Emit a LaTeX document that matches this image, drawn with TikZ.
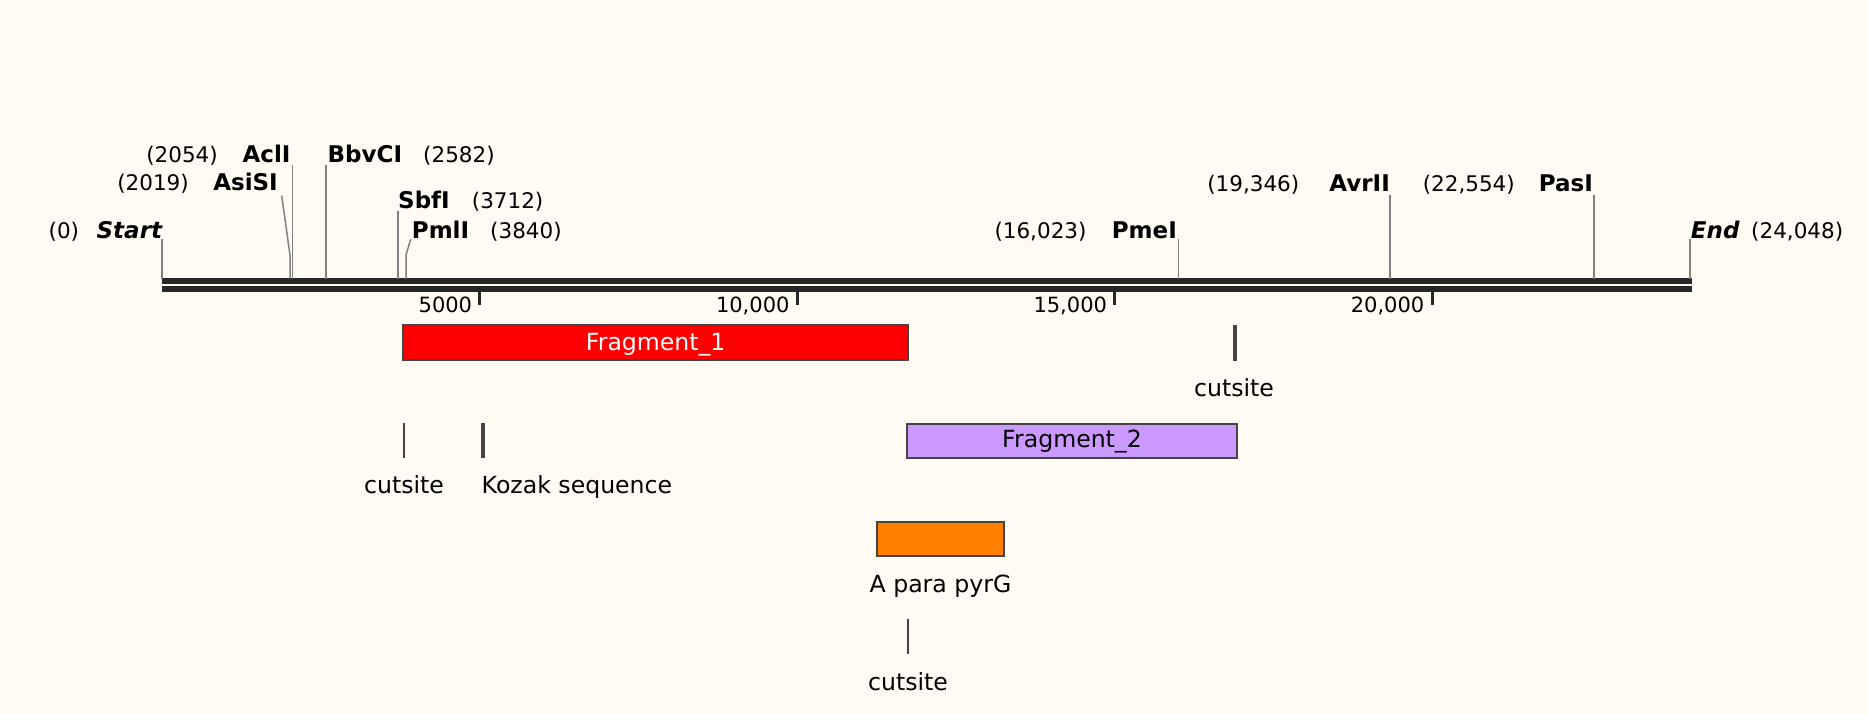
\documentclass[tikz,border=0pt]{standalone}
\usepackage{fontspec}
\setmainfont{DejaVu Sans}
\definecolor{bgc}{HTML}{FFFBF3}
\definecolor{bbc}{HTML}{262626}
\definecolor{leadc}{HTML}{808080}
\definecolor{edgec}{HTML}{444444}
\definecolor{frag1c}{HTML}{FF0000}
\definecolor{frag2c}{HTML}{CC99FF}
\definecolor{orangec}{HTML}{FF8000}
\begin{document}
\begin{tikzpicture}[x=1pt,y=-1pt,
  numE/.style={font=\fontsize{21.5}{26}\selectfont, inner sep=0pt, anchor=base east},
  numW/.style={font=\fontsize{21.5}{26}\selectfont, inner sep=0pt, anchor=base west},
  enzE/.style={font=\fontsize{23}{28}\selectfont\bfseries, inner sep=0pt, anchor=base east},
  enzW/.style={font=\fontsize{23}{28}\selectfont\bfseries, inner sep=0pt, anchor=base west},
  endE/.style={font=\fontsize{23}{28}\selectfont\bfseries\itshape, inner sep=0pt, anchor=base east},
  endW/.style={font=\fontsize{23}{28}\selectfont\bfseries\itshape, inner sep=0pt, anchor=base west},
  lead/.style={draw=leadc, line width=1.5pt},
  bbline/.style={draw=bbc, line width=5.7pt},
  tickline/.style={draw=bbc, line width=3pt},
  ticklbl/.style={font=\fontsize{21}{25}\selectfont, inner sep=0pt, anchor=base east},
  fbox/.style={draw=edgec, line width=2pt, inner sep=0pt, outer sep=0pt},
  flabel/.style={font=\fontsize{23.6}{28}\selectfont, inner sep=0pt, anchor=base},
  flabelW/.style={font=\fontsize{23.6}{28}\selectfont, inner sep=0pt, anchor=base west},
  cutthin/.style={draw=edgec, line width=2pt},
  cutthick/.style={draw=edgec, line width=4pt}
]
\useasboundingbox (0,0) rectangle (1868,714);
\fill[bgc] (0,0) rectangle (1868,714);

% backbone
\coordinate (bbL1) at (162,281.2);
\coordinate (bbR1) at (1691.7,281.2);
\coordinate (bbL2) at (162,288.9);
\coordinate (bbR2) at (1691.7,288.9);
\draw[bbline] (bbL1) -- (bbR1);
\draw[bbline] (bbL2) -- (bbR2);

% ticks
\foreach \tx/\tl [count=\i] in {479.8/5000, 797.2/{10,000}, 1114.7/{15,000}, 1432/{20,000}} {
  \coordinate (tickT\i) at (\tx,291);
  \coordinate (tickB\i) at (\tx,305);
  \draw[tickline] (tickT\i) -- (tickB\i);
  \node[ticklbl] (tickL\i) at (\tx-7.5,312.3) {\tl};
}

% enzyme labels row A
\node[numE] (n2054) at (218,162.5) {(2054)};
\node[enzE] (AclI) at (290.7,162.5) {AclI};
\node[enzW] (BbvCI) at (327.5,162.5) {BbvCI};
\node[numW] (n2582) at (423,162.5) {(2582)};
% row B
\node[numE] (n2019) at (189,191) {(2019)};
\node[enzE] (AsiSI) at (278,191) {AsiSI};
\node[numE] (n19346) at (1299.5,191.5) {(19,346)};
\node[enzE] (AvrII) at (1390,191.5) {AvrII};
\node[numE] (n22554) at (1515,191.5) {(22,554)};
\node[enzE] (PasI) at (1593,191.5) {PasI};
% row C
\node[enzW] (SbfI) at (398,209) {SbfI};
\node[numW] (n3712) at (471.7,209) {(3712)};
% row D
\node[numE] (n0) at (79.3,238.3) {(0)};
\node[endE] (Start) at (162.3,238.3) {Start};
\node[enzW] (PmlI) at (411.7,238.3) {PmlI};
\node[numW] (n3840) at (490,238.3) {(3840)};
\node[numE] (n16023) at (1086.7,238.5) {(16,023)};
\node[enzE] (PmeI) at (1177,238.5) {PmeI};
\node[endW] (End) at (1690.7,238.3) {End};
\node[numW] (n24048) at (1751,238.3) {(24,048)};

% leader lines
\coordinate (tStart) at (162,239.3);  \coordinate (bStart) at (162,278.5);
\coordinate (tAsiSI) at (281.7,195.7); \coordinate (mAsiSI) at (290,255); \coordinate (bAsiSI) at (290,278.5);
\coordinate (tAclI) at (292.3,165);   \coordinate (bAclI) at (292.3,278.5);
\coordinate (tBbvCI) at (326.2,165);  \coordinate (bBbvCI) at (326.2,278.5);
\coordinate (tSbfI) at (397.8,211);   \coordinate (bSbfI) at (397.8,278.5);
\coordinate (tPmlI) at (410.7,239.3); \coordinate (mPmlI) at (406,255); \coordinate (bPmlI) at (406,278.5);
\coordinate (tPmeI) at (1178.5,239.3); \coordinate (bPmeI) at (1178.5,278.5);
\coordinate (tAvrII) at (1390.2,195); \coordinate (bAvrII) at (1390.2,278.5);
\coordinate (tPasI) at (1594,195);    \coordinate (bPasI) at (1594,278.5);
\coordinate (tEnd) at (1690,239.3);   \coordinate (bEnd) at (1690,278.5);
\draw[lead] (tStart) -- (bStart);
\draw[lead] (tAsiSI) -- (mAsiSI) -- (bAsiSI);
\draw[lead] (tAclI) -- (bAclI);
\draw[lead] (tBbvCI) -- (bBbvCI);
\draw[lead] (tSbfI) -- (bSbfI);
\draw[lead] (tPmlI) -- (mPmlI) -- (bPmlI);
\draw[lead] (tPmeI) -- (bPmeI);
\draw[lead] (tAvrII) -- (bAvrII);
\draw[lead] (tPasI) -- (bPasI);
\draw[lead] (tEnd) -- (bEnd);

% features
\node[fbox, fill=frag1c, minimum width=504.7pt, minimum height=35pt] (frag1) at (655.7,342.5) {};
\node[flabel, text=white] (frag1lbl) at (655.7,350) {Fragment\_1};

\coordinate (cutAt) at (1235,325); \coordinate (cutAb) at (1235,360.7);
\draw[cutthick] (cutAt) -- (cutAb);
\node[flabel] (cutAlbl) at (1234,396) {cutsite};

\node[fbox, fill=frag2c, minimum width=329.4pt, minimum height=34.3pt] (frag2) at (1072,441.2) {};
\node[flabel] (frag2lbl) at (1072,447.7) {Fragment\_2};

\coordinate (cutBt) at (404,423.3); \coordinate (cutBb) at (404,458.3);
\draw[cutthin] (cutBt) -- (cutBb);
\node[flabel] (cutBlbl) at (404,493.3) {cutsite};

\coordinate (kozt) at (482.7,423.3); \coordinate (kozb) at (482.7,458.3);
\draw[cutthick] (kozt) -- (kozb);
\node[flabelW] (kozlbl) at (481.5,493.3) {Kozak sequence};

\node[fbox, fill=orangec, minimum width=127pt, minimum height=34.3pt] (pyrG) at (940.8,538.9) {};
\node[flabel] (pyrGlbl) at (940.5,592.7) {A para pyrG};

\coordinate (cutCt) at (908,619); \coordinate (cutCb) at (908,654);
\draw[cutthin] (cutCt) -- (cutCb);
\node[flabel] (cutClbl) at (908,690) {cutsite};
\end{tikzpicture}
\end{document}
